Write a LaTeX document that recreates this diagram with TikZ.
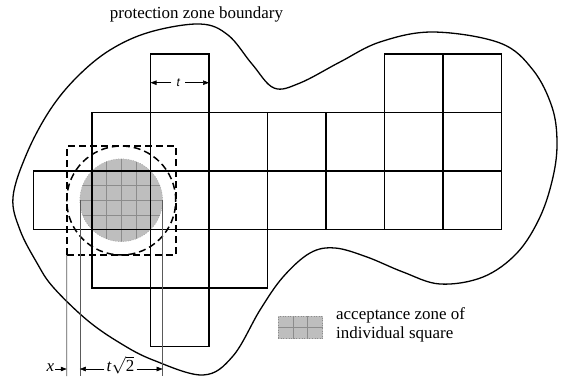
\documentclass[tikz,border=0pt]{standalone}
\usepackage{fontspec}
\setmainfont{Liberation Serif}
\newfontfamily\labsans{Liberation Sans}
\usetikzlibrary{arrows.meta}
\definecolor{accgray}{HTML}{BEBEBE}
\definecolor{finegray}{HTML}{8C8C8C}
\definecolor{extgray}{HTML}{5A5A5A}
\begin{document}
\begin{tikzpicture}[x=1bp,y=-1bp,
  cell/.style={draw=black,line width=1.7bp,minimum size=58.5bp,inner sep=0pt,outer sep=0pt},
  bound/.style={draw=black,line width=1.3bp},
  dashbox/.style={draw=black,line width=1.5bp,dash pattern=on 7bp off 4bp},
  fine/.style={draw=finegray,line width=0.5bp},
  ext/.style={draw=extgray,line width=0.7bp},
  dim/.style={draw=black,line width=0.6bp,-{Triangle[length=6bp,width=4.5bp]}},
  lbl/.style={font=\fontsize{17}{19}\selectfont,inner sep=0pt},
]
\useasboundingbox (0,0) rectangle (564,376);

% protection zone boundary
\draw[bound] plot[smooth cycle, tension=0.6] coordinates {
  (200,24) (228,35) (252,64) (274,88) (300,83) (340,62) (380,42) (433,32)
  (500,43) (533,70) (552,107) (557,142) (553,177) (540,217) (517,253)
  (483,277) (440,284) (403,272) (367,257) (335,248) (310,253) (283,277)
  (260,310) (233,356) (203,375) (153,360) (120,343) (87,320) (53,287)
  (37,263) (20,230) (13,197) (27,153) (50,110) (77,77) (110,50) (150,32)};
\node[lbl,anchor=base] (title) at (196.5,18.3) {protection zone boundary};

% acceptance zone (gray circle)
\coordinate (cen) at (121.25,200.25);
\fill[accgray] (cen) circle[radius=41.4bp];
\begin{scope}
  \clip (cen) circle[radius=41.4bp];
  \foreach \k in {-3,...,3} {
    \draw[fine] ({121.25+14.625*\k},155) -- ++(0,90);
    \draw[fine] (75,{200.25+14.625*\k}) -- ++(95,0);
  }
\end{scope}
\draw[finegray,dotted,line width=0.5bp] (cen) circle[radius=41.4bp];

% grid of squares
\foreach \i/\j in {2/0,6/0,7/0,
                   1/1,2/1,3/1,4/1,5/1,6/1,7/1,
                   0/2,1/2,2/2,3/2,4/2,5/2,6/2,7/2,
                   1/3,2/3,3/3,
                   2/4} {
  \node[cell] (c\i\j) at ({33.5+58.5*(\i+0.5)},{54+58.5*(\j+0.5)}) {};
}

% dashed square and circle
\node[dashbox,minimum size=109bp,inner sep=0pt,outer sep=0pt] (dsq) at (121.25,200.5) {};
\draw[dashbox] (dsq.center) circle[radius=54.5bp];

% extension lines
\coordinate (e1t) at (dsq.south west);
\coordinate (e1b) at (66.75,376);
\coordinate (e2t) at (79.85,200.25);
\coordinate (e2b) at (79.85,376);
\coordinate (e3t) at (162.65,200.25);
\coordinate (e3b) at (162.65,376);
\draw[ext] (e1t) -- (e1b);
\draw[ext] (e2t) -- (e2b);
\draw[ext] (e3t) -- (e3b);

% bottom dimensions
\coordinate (d1) at (66.75,369);
\coordinate (d2) at (79.85,369);
\coordinate (d3) at (162.65,369);
\node[lbl,anchor=base,font=\fontsize{17}{19}\selectfont\itshape] (xl) at (50.5,371.7) {x};
\draw[dim] ([xshift=1bp]xl.east |- d1) -- (d1);
\node[lbl,anchor=base,inner xsep=2bp] (tsq) at (120.5,371.7) {\textit{t}$\sqrt{\mbox{2}}$};
\draw[dim] (tsq.west |- d2) -- (d2);
\draw[dim] (tsq.east |- d3) -- (d3);

% top dimension t
\node[font=\labsans\itshape\fontsize{12}{14}\selectfont,inner ysep=0pt,inner xsep=5bp] (tl) at (178.3,82.7) {t};
\draw[dim] (tl.west) -- (tl.west -| c20.west);
\draw[dim] (tl.east) -- (tl.east -| c20.east);

% legend
\node[fill=accgray,draw=finegray,dotted,line width=0.6bp,minimum width=44.4bp,minimum height=22.3bp,inner sep=0pt] (sw) at (300.5,327.5) {};
\draw[fine] ([xshift=-7.2bp]sw.north) -- ([xshift=-7.2bp]sw.south);
\draw[fine] ([xshift=6.8bp]sw.north) -- ([xshift=6.8bp]sw.south);
\draw[fine] (sw.west) -- (sw.east);
\node[lbl,anchor=base west] (leg1) at (336,319.3) {acceptance zone of};
\node[lbl,anchor=base west] (leg2) at (336,338) {individual square};
\end{tikzpicture}
\end{document}
